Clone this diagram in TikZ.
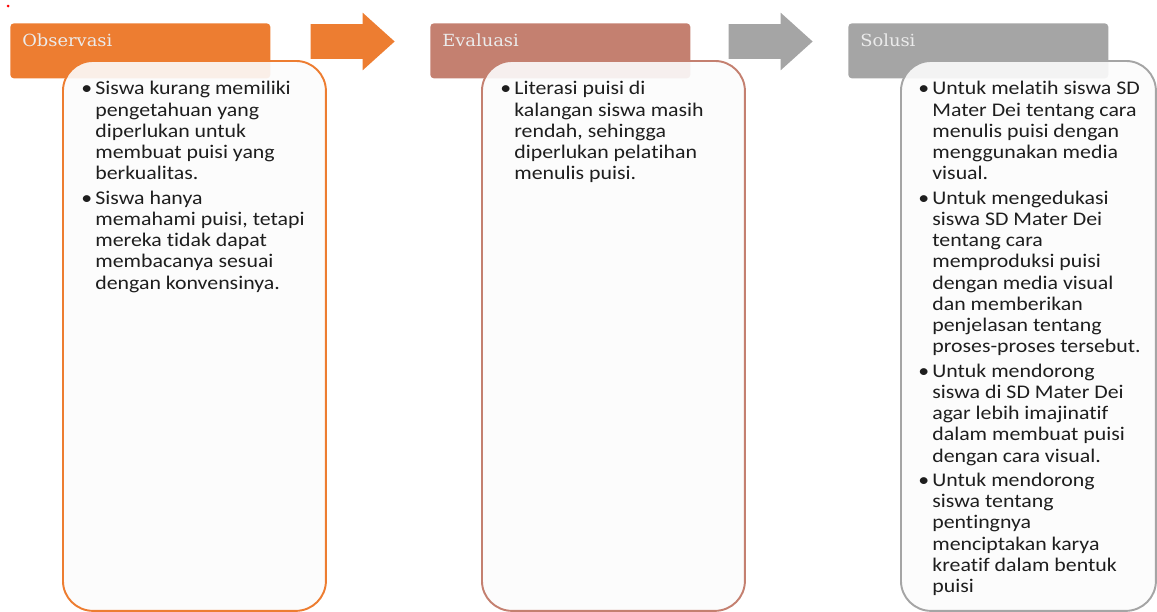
\documentclass[tikz,border=0pt]{standalone}
\usepackage{fontspec}
\setmainfont{Carlito}
\newfontfamily\bodyfont[FakeStretch=1.13, RawFeature=-liga]{Carlito}
\newfontfamily\hdrfont[FakeStretch=1.07]{DejaVu Serif}
\usepackage{xcolor}
\usetikzlibrary{shapes.arrows, positioning}

\definecolor{obsC}{RGB}{237,125,49}
\definecolor{evaC}{RGB}{196,128,112}
\definecolor{solC}{RGB}{165,165,165}
\definecolor{cardC}{RGB}{252,252,252}
\definecolor{txtC}{RGB}{30,30,30}

\newcommand{\itm}{\llap{\textbullet\hspace{1.8pt}}}

\begin{document}
\begin{tikzpicture}[x=0.02cm, y=-0.02cm,
    hdr/.style={rectangle, rounded corners=2pt, anchor=north west, minimum width=5.2cm, minimum height=1.1cm, inner sep=0pt},
    hdrtext/.style={anchor=base west, inner sep=0pt, font=\hdrfont\fontsize{9.5}{11}\selectfont, text=white!92!black},
    card/.style={rectangle, rounded corners=0.6cm, anchor=north west, minimum width=5.26cm, minimum height=11cm, fill=cardC, fill opacity=0.9, line width=1.1pt, inner sep=0pt},
    body/.style={anchor=north west, inner sep=0pt, align=left, text=txtC, font=\bodyfont\fontsize{11}{12.1}\selectfont},
    flow/.style={single arrow, single arrow head extend=0.23cm, single arrow tip angle=84, inner sep=0.34cm, minimum height=1.68cm}]

\useasboundingbox (0,0) rectangle (1157,612);
\fill[red] (8,6) circle (1.5);

% headers
\node[hdr, fill=obsC] (obsH) at (10,23) {};
\node[hdr, fill=evaC] (evaH) at (430,23) {};
\node[hdr, fill=solC] (solH) at (848,23) {};

\node[hdrtext] at ([xshift=0.24cm, yshift=-0.48cm]obsH.north west) {Observasi};
\node[hdrtext] at ([xshift=0.24cm, yshift=-0.48cm]evaH.north west) {Evaluasi};
\node[hdrtext] at ([xshift=0.24cm, yshift=-0.48cm]solH.north west) {Solusi};

% arrows between steps
\node[flow, fill=obsC] (arrA) at (343,41.5) {};
\node[flow, fill=solC] (arrB) at (761,41.5) {};

% cards
\node[card, draw=obsC] (obsB) at (62,60) {};
\node[card, draw=evaC] (evaB) at (481,60) {};
\node[card, draw=solC, minimum width=5.1cm] (solB) at (900,60) {};

\node[body] (obsT) at ([xshift=0.66cm, yshift=-0.42cm]obsB.north west) {%
\itm Siswa kurang memiliki\\ pengetahuan yang\\ diperlukan untuk\\ membuat puisi yang\\ berkualitas.\\[1.7pt]
\itm Siswa hanya\\ memahami puisi, tetapi\\ mereka tidak dapat\\ membacanya sesuai\\ dengan konvensinya.};

\node[body] (evaT) at ([xshift=0.66cm, yshift=-0.42cm]evaB.north west) {%
\itm Literasi puisi di\\ kalangan siswa masih\\ rendah, sehingga\\ diperlukan pelatihan\\ menulis puisi.};

\node[body] (solT) at ([xshift=0.64cm, yshift=-0.42cm]solB.north west) {%
\itm Untuk melatih siswa SD\\ Mater Dei tentang cara\\ menulis puisi dengan\\ menggunakan media\\ visual.\\[1.7pt]
\itm Untuk mengedukasi\\ siswa SD Mater Dei\\ tentang cara\\ memproduksi puisi\\ dengan media visual\\ dan memberikan\\ penjelasan tentang\\ proses-proses tersebut.\\[1.7pt]
\itm Untuk mendorong\\ siswa di SD Mater Dei\\ agar lebih imajinatif\\ dalam membuat puisi\\ dengan cara visual.\\[1.7pt]
\itm Untuk mendorong\\ siswa tentang\\ pentingnya\\ menciptakan karya\\ kreatif dalam bentuk\\ puisi};
\end{tikzpicture}
\end{document}
